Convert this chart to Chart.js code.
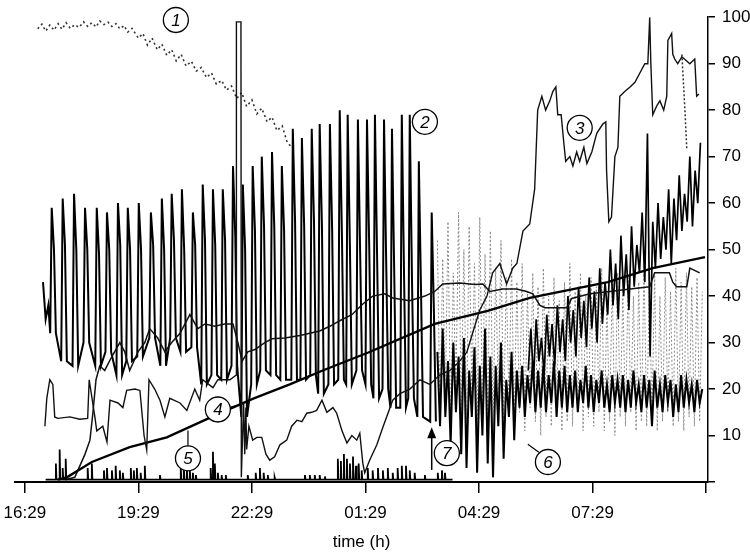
<!DOCTYPE html>
<html>
<head>
<meta charset="utf-8">
<title>Overnight recording</title>
<script src="https://cdn.jsdelivr.net/npm/chart.js@4"></script>
<style>
  html, body { margin: 0; padding: 0; background: #fff; }
  canvas { display: block; }
</style>
</head>
<body>
<canvas id="chart" width="750" height="555"></canvas>
<script>
// x values are hours since 16:29, y values on the 0-100 scale of the right axis

// x axis ticks
const xTickValues = [0, 3, 6, 9, 12, 15, 18];
const xTickLabels = ['16:29', '19:29', '22:29', '01:29', '04:29', '07:29', ''];

// (1) dotted trace, slowly falling
const s1Time = [0.34, 0.45, 0.55, 0.66, 0.77, 0.88, 0.98, 1.09, 1.2, 1.32,
  1.43, 1.55, 1.66, 1.77, 1.88, 1.98, 2.09, 2.2, 2.3, 2.41,
  2.51, 2.62, 2.72, 2.83, 3.0, 3.12, 3.24, 3.36, 3.5, 3.62,
  3.75, 3.88, 4.0, 4.13, 4.26, 4.4, 4.53, 4.66, 4.8, 4.93,
  5.06, 5.2, 5.33, 5.46, 5.6, 5.73, 5.86, 6.0, 6.13, 6.26,
  6.4, 6.53, 6.66, 6.8, 6.92, 7.04];
const s1Val = [97.5, 98.5, 97, 98.3, 97.2, 98.6, 97.4, 98.8, 97.6, 98.4,
  97.8, 99, 98, 98.8, 97.9, 99.2, 98.4, 98.9, 98, 98.6,
  97.5, 98.2, 96.8, 97.6, 95.5, 96.5, 94, 95.5, 93, 94.2,
  91.8, 93, 90.6, 92, 89.5, 90.5, 88.4, 89.2, 87, 88,
  85.6, 86.4, 84.3, 85.2, 82.5, 83.8, 80.8, 82.2, 79.2, 80.4,
  77.5, 78.5, 75.6, 76.6, 73.4, 72];
// short dotted drop near the end of (3)
const s1bTime = [17.36, 17.44, 17.49];
const s1bVal = [92, 80, 71.5];

// (2) periodic spikes: lead-in, then one peak/shoulder/low per cycle
const s2LeadTime = [0.48, 0.55, 0.62];
const s2LeadVal = [43, 35, 38];
const s2Time = [0.71, 1.00, 1.30, 1.59, 1.90, 2.17, 2.46, 2.72, 3.01, 3.33,
  3.62, 3.88, 4.15, 4.44, 4.70, 4.97, 5.23, 5.50, 5.76, 6.02,
  6.26, 6.53, 6.79, 7.08, 7.32, 7.58, 7.79, 8.06, 8.32, 8.53,
  8.80, 9.04, 9.25, 9.49, 9.70, 9.96, 10.17, 10.41, 10.75];
const s2Peak = [59, 61, 62, 59, 59, 58, 60, 59, 60, 58,
  61, 62, 63, 58, 64, 63, 63, 68, 64, 68,
  70, 71, 68, 76, 74, 76, 77, 77, 80, 79,
  78, 78, 79, 78, 76, 79, 79, 69, 58];
const s2Mid = [50, 51, 50, 50, 49, 50, 51, 50, 50, 51,
  50, 52, 50, 51, 52, 51, 52, 53, 50, 54,
  55, 55, 54, 56, 55, 56, 55, 54, 52, 50,
  49, 50, 47, 46, 45, 44, 43, 40, 36];
const s2Low = [32, 26, 25, 30, 25, 28, 23, 26, 27, 31,
  25, 31, 28, 29, 21, 23, 22, 25, 14, 21,
  24, 23, 22, 22, 22, 23, 19, 21, 22, 21,
  24, 21, 18, 20, 16, 16, 18, 14, 13];

// (3) thin stepped trace, climbing high at the end
const s3Time = [0.53, 0.58, 0.66, 0.74, 0.79, 0.87, 1.19, 1.45, 1.66, 1.70,
  1.85, 1.90, 2.06, 2.17, 2.25, 2.46, 2.59, 2.69, 2.91, 3.04,
  3.15, 3.22, 3.28, 3.43, 3.57, 3.70, 3.83, 4.10, 4.28, 4.49,
  4.62, 4.70, 4.97, 5.10, 5.42, 5.58, 5.59, 5.71, 5.72, 5.78,
  5.81, 5.84, 5.86, 5.92, 6.02, 6.13, 6.26, 6.37, 6.47, 6.60,
  6.74, 6.92, 7.05, 7.19, 7.32, 7.45, 7.58, 7.71, 7.85, 7.98,
  8.14, 8.24, 8.38, 8.51, 8.64, 8.77, 8.85, 8.93, 8.98, 9.11,
  9.30, 9.46, 9.72, 9.91, 10.17, 10.44, 10.70, 10.96, 11.23, 11.49,
  11.68, 11.83, 12.02, 12.21, 12.36, 12.55, 12.73, 12.89, 13.00, 13.16,
  13.34, 13.47, 13.55, 13.66, 13.76, 13.87, 13.95, 14.03, 14.08, 14.17,
  14.24, 14.29, 14.40, 14.48, 14.58, 14.66, 14.77, 14.85, 14.98, 15.11,
  15.27, 15.35, 15.37, 15.43, 15.50, 15.59, 15.67, 15.72, 15.85, 15.99,
  16.12, 16.25, 16.38, 16.46, 16.51, 16.54, 16.59, 16.70, 16.78, 16.88,
  16.96, 16.99, 17.09, 17.12, 17.17, 17.25, 17.36, 17.57, 17.70, 17.75,
  17.81];
const s3Val = [12, 18, 22, 21, 14, 13.7, 14, 13.5, 13.7, 22,
  14, 11, 12, 8.6, 17.6, 17, 16, 19.7, 20, 19.7,
  10, 6.9, 22, 20, 17.6, 14, 18, 17, 15.4, 20,
  17.6, 22, 20.3, 22, 22, 23, 99, 99, 1, 17,
  6, 16, 7, 12, 9, 9.6, 9.6, 6, 4.7, 5.4,
  8, 9, 12, 13.3, 13, 14.8, 15, 15.4, 17.6, 15,
  16, 14.8, 11, 8.4, 10, 9, 10.5, 4, 2, 4.7,
  8, 11.8, 17.6, 19, 20, 22, 21, 23, 24, 26,
  28, 32, 37, 40, 45, 47, 42.6, 46, 47, 54,
  55.5, 63, 80, 83, 80, 82, 84, 85, 79, 79,
  73, 69, 70, 68, 71, 69, 72, 68.5, 71, 75,
  77, 77.5, 67, 56, 57, 70, 72, 83, 84, 85,
  86, 88, 90, 90, 100, 90, 79, 81, 82, 80,
  83, 95, 96.5, 92, 91, 90, 91.5, 90, 91, 83,
  83.5];

// (4) nearly straight rising line
const s4Time = [0.87, 1.11, 1.77, 2.77, 3.75, 5.07, 6.05, 7.00, 7.87, 9.06, 10.83, 12.23, 13.34, 15.40, 16.59, 17.97];
const s4Val = [0.5, 1, 4.3, 7.5, 9.6, 14.5, 18, 21, 24, 27.8, 34, 36.8, 39.6, 43, 46, 48.4];

// upper wandering line
const s5Time = [1.06, 1.32, 1.59, 1.72, 1.80, 1.88, 1.98, 2.11, 2.30, 2.51,
  2.64, 2.77, 2.99, 3.17, 3.30, 3.51, 3.70, 3.88, 4.10, 4.36,
  4.57, 4.76, 5.02, 5.28, 5.50, 5.63, 5.74, 5.89, 6.08, 6.34,
  6.53, 6.87, 7.27, 7.53, 7.79, 8.06, 8.32, 8.64, 8.93, 9.19,
  9.51, 9.72, 10.17, 10.57, 10.83, 11.04, 11.49, 11.89, 12.10, 12.29,
  12.62, 12.99, 13.26, 13.42, 13.61, 13.74, 14.32, 14.45, 14.93, 15.46,
  15.99, 16.51, 16.64, 17.03, 17.12, 17.22, 17.49, 17.57, 17.83];
const s5Val = [0.5, 1, 6, 9, 15, 22, 25, 24, 27, 30,
  28, 24, 28, 30, 33, 31, 28, 30, 32, 36,
  33, 34, 33.5, 34, 34, 30, 26, 28, 28.5, 30,
  30.8, 31, 31.5, 32, 32.5, 33.5, 34.7, 36, 38.3, 40,
  40.5, 39.6, 39, 40, 41, 42.6, 42.8, 42.5, 42.6, 41,
  41.5, 41.5, 41, 40.5, 38, 37.5, 37.5, 39.5, 40.5, 41,
  41.5, 42, 45, 45, 43, 42, 42, 46, 45];

// (5) small spikes on the baseline
const baseStart = 0.55;
const baseEnd = 11.3;
const spikeTime = [0.82, 0.92, 1.00, 1.08, 1.66, 1.77, 2.09, 2.17, 2.30, 2.40,
  2.51, 2.59, 2.80, 2.88, 2.96, 3.06, 3.17, 3.57, 4.12, 4.20,
  4.28, 4.36, 4.44, 4.52, 4.91, 4.97, 5.02, 5.10, 5.20, 5.31,
  5.89, 6.10, 6.21, 6.31, 6.42, 6.60, 7.40, 7.53, 7.66, 7.79,
  7.93, 8.27, 8.35, 8.43, 8.51, 8.59, 8.67, 8.75, 8.82, 8.90,
  9.06, 9.19, 9.33, 9.46, 9.59, 9.72, 9.85, 9.96, 10.07, 10.17,
  10.30, 10.57, 10.91, 11.02, 11.10];
const spikeVal = [4, 7, 3, 5, 3, 4, 2.5, 3, 2.5, 3.5,
  2.5, 2, 3, 2.5, 3, 2, 3.5, 1.5, 3, 3.5,
  3, 2.5, 2, 1.5, 3, 6.5, 4, 2, 1.5, 1.5,
  1.5, 2, 3, 2, 1.5, 1, 1.5, 1.5, 1.5, 1.5,
  1.2, 5, 4.5, 6, 5, 4, 5.5, 3.5, 4, 2.5,
  3, 2.5, 3, 2.5, 3, 2, 3, 3.5, 3.5, 2.5,
  2, 1.5, 2, 2.5, 2];

// noisy traces after ~03:30, sampled every 0.07 h
const noiseStart = 10.9;
const noiseStep = 0.07;
const hatchVal = [52, 14, 48, 18, 56, 12, 45, 20, 58, 15,
  50, 13, 55, 19, 47, 11, 57, 16, 49, 14,
  54, 12, 46, 18, 52, 13, 44, 17, 48, 12,
  43, 15, 47, 11, 41, 16, 45, 13, 42, 10,
  46, 14, 40, 12, 44, 16, 39, 11, 43, 13,
  47, 12, 41, 15, 45, 11, 40, 14, 44, 12,
  42, 15, 46, 11, 39, 13, 43, 10, 45, 14,
  41, 12, 44, 15, 40, 11, 43, 13, 47, 12,
  42, 14, 45, 11, 40, 13, 44, 15, 41, 12,
  46, 13, 43, 11, 45, 14, 42, 12, 44, 13,
  41];
// (6) dense band around 20
const bandVal = [28, 12, 33, 14, 26, 8, 30, 15, 27, 6,
  31, 3, 24, 14, 29, 2, 25, 10, 33, 4,
  27, 1, 25, 12, 30, 5, 22, 14, 28, 9,
  24, 16, 25, 14, 23, 17, 26, 15, 24, 16,
  25, 15, 23, 17, 26, 14, 24, 16, 25, 15,
  23, 16, 24, 15, 22, 17, 25, 16, 23, 15,
  22, 17, 24, 16, 21, 15, 23, 17, 22, 16,
  23, 15, 22, 16, 24, 17, 21, 15, 23, 16,
  22, 12, 24, 16, 21, 15, 23, 17, 22, 14,
  21, 15, 23, 16, 22, 17, 21, 15, 22, 17,
  20];
// rising band from ~05:45
const riseStart = 13.3;
const riseVal = [24, 33, 22, 35, 26, 31, 23, 36, 27, 34,
  25, 38, 28, 35, 26, 40, 30, 37, 27, 42,
  31, 39, 29, 44, 33, 41, 30, 46, 34, 43,
  36, 50, 38, 47, 35, 53, 40, 49, 37, 55,
  42, 51, 45, 58, 43, 75, 27, 56, 46, 60,
  48, 57, 50, 63, 47, 61, 52, 66, 54, 62,
  56, 70, 55, 67, 60, 73];

// circled labels
const noteText = ['1', '2', '3', '4', '5', '6', '7'];
const noteTime = [3.99, 10.57, 14.66, 5.10, 4.31, 13.82, 11.15];
const noteVal = [99.4, 77.5, 76.2, 15.6, 5.1, 4.3, 6.2];
// leader lines [fromTime, fromVal, toTime, toVal]
const leaders = [
  [5.44, 16.1, 5.71, 16.7],
  [4.31, 7.7, 4.31, 11.1],
  [13.58, 6.4, 13.29, 8.1]
];
// arrow at (7)
const arrowTime = 10.75;
const arrowFrom = 2.6;
const arrowTo = 11.8;

(function () {
  'use strict';

  const FONT = "'Liberation Sans', Arial, sans-serif";
  Chart.defaults.font.family = FONT;
  Chart.defaults.color = '#000';

  function pairs(times, vals) {
    return times.map((t, i) => ({ x: t, y: vals[i] }));
  }

  function grid(start, vals) {
    return vals.map((v, i) => ({ x: +(start + i * noiseStep).toFixed(3), y: v }));
  }

  // spikes: rise, peak, shoulder, fall back
  function spikeTrain() {
    const pts = pairs(s2LeadTime, s2LeadVal);
    s2Time.forEach((t, i) => {
      pts.push({ x: t - 0.04, y: s2Low[i] });
      pts.push({ x: t, y: s2Peak[i] });
      pts.push({ x: t + 0.06, y: s2Mid[i] });
      pts.push({ x: t + 0.11, y: s2Low[i] });
    });
    return pts;
  }

  function baseline() {
    const pts = [{ x: baseStart, y: 0.5 }];
    spikeTime.forEach((t, i) => {
      pts.push({ x: t - 0.015, y: 0.5 });
      pts.push({ x: t, y: spikeVal[i] });
      pts.push({ x: t + 0.015, y: 0.5 });
    });
    pts.push({ x: baseEnd, y: 0.5 });
    return pts;
  }

  const line = (data, color, width, extra) =>
    Object.assign({ data, borderColor: color, borderWidth: width, pointRadius: 0, fill: false }, extra || {});

  const datasets = [
    line(baseline(), '#000', 1.8),
    line(pairs(s3Time, s3Val), '#111', 1.4),
    line(pairs(s4Time, s4Val), '#000', 2.3),
    line(pairs(s5Time, s5Val), '#111', 1.5),
    line(spikeTrain(), '#000', 2),
    line(pairs(s1Time, s1Val), '#333', 1.6, { borderDash: [2, 3] }),
    line(pairs(s1bTime, s1bVal), '#333', 1.5, { borderDash: [2, 2] }),
    line(grid(riseStart, riseVal), '#000', 1.7),
    line(grid(noiseStart, bandVal), '#000', 2),
    line(grid(noiseStart, hatchVal), '#8a8a8a', 1, { borderDash: [2, 2] })
  ];

  const notes = {
    id: 'notes',
    afterDatasetsDraw(chart) {
      const { ctx } = chart;
      const xs = chart.scales.x;
      const ys = chart.scales.y;
      const px = (t) => xs.getPixelForValue(t);
      const py = (v) => ys.getPixelForValue(v);
      ctx.save();
      ctx.strokeStyle = '#000';
      ctx.fillStyle = '#000';
      ctx.lineWidth = 1.2;

      leaders.forEach((l) => {
        ctx.beginPath();
        ctx.moveTo(px(l[0]), py(l[1]));
        ctx.lineTo(px(l[2]), py(l[3]));
        ctx.stroke();
      });

      // arrow pointing up
      const ax = px(arrowTime);
      const tip = py(arrowTo);
      ctx.lineWidth = 1.5;
      ctx.beginPath();
      ctx.moveTo(ax, py(arrowFrom));
      ctx.lineTo(ax, tip + 8);
      ctx.stroke();
      ctx.beginPath();
      ctx.moveTo(ax, tip);
      ctx.lineTo(ax - 4.5, tip + 11);
      ctx.lineTo(ax + 4.5, tip + 11);
      ctx.closePath();
      ctx.fill();

      ctx.font = 'italic 17px ' + FONT;
      ctx.textAlign = 'center';
      ctx.textBaseline = 'middle';
      noteText.forEach((txt, i) => {
        const cx = px(noteTime[i]);
        const cy = py(noteVal[i]);
        ctx.beginPath();
        ctx.arc(cx, cy, 12.5, 0, Math.PI * 2);
        ctx.fillStyle = '#fff';
        ctx.fill();
        ctx.lineWidth = 1.3;
        ctx.stroke();
        ctx.fillStyle = '#000';
        ctx.fillText(txt, cx, cy + 1);
      });
      ctx.restore();
    }
  };

  new Chart(document.getElementById('chart'), {
    type: 'line',
    data: { datasets },
    options: {
      responsive: false,
      animation: false,
      layout: { padding: { left: 15, top: 15, right: 0, bottom: 0 } },
      elements: { line: { tension: 0 } },
      plugins: {
        legend: { display: false },
        tooltip: { enabled: false }
      },
      scales: {
        x: {
          type: 'linear',
          min: -0.26,
          max: 18.05,
          afterBuildTicks: (scale) => {
            scale.ticks = xTickValues.map((v) => ({ value: v }));
          },
          afterFit: (scale) => {
            // keep the plot edge fixed, the first label may overhang
            scale.height = 73;
            scale.paddingLeft = 0;
            scale.paddingRight = 0;
          },
          ticks: {
            autoSkip: false,
            maxRotation: 0,
            padding: 10,
            font: { size: 17 },
            callback: (v) => xTickLabels[xTickValues.indexOf(v)]
          },
          grid: { drawOnChartArea: false, drawTicks: true, tickLength: 11, color: '#000', lineWidth: 1.5 },
          border: { display: true, color: '#000', width: 2 },
          title: { display: true, text: 'time (h)', font: { size: 17 }, padding: { top: 4, bottom: 2 } }
        },
        y: {
          position: 'right',
          min: 0,
          max: 100,
          afterFit: (scale) => { scale.width = 42; },
          ticks: {
            stepSize: 10,
            padding: 7,
            font: { size: 17 },
            callback: (v) => (v === 0 ? '' : v)
          },
          grid: { drawOnChartArea: false, drawTicks: true, tickLength: 7, color: '#000', lineWidth: 1.5 },
          border: { display: true, color: '#000', width: 1.5 }
        }
      }
    },
    plugins: [notes]
  });
})();
</script>
</body>
</html>
